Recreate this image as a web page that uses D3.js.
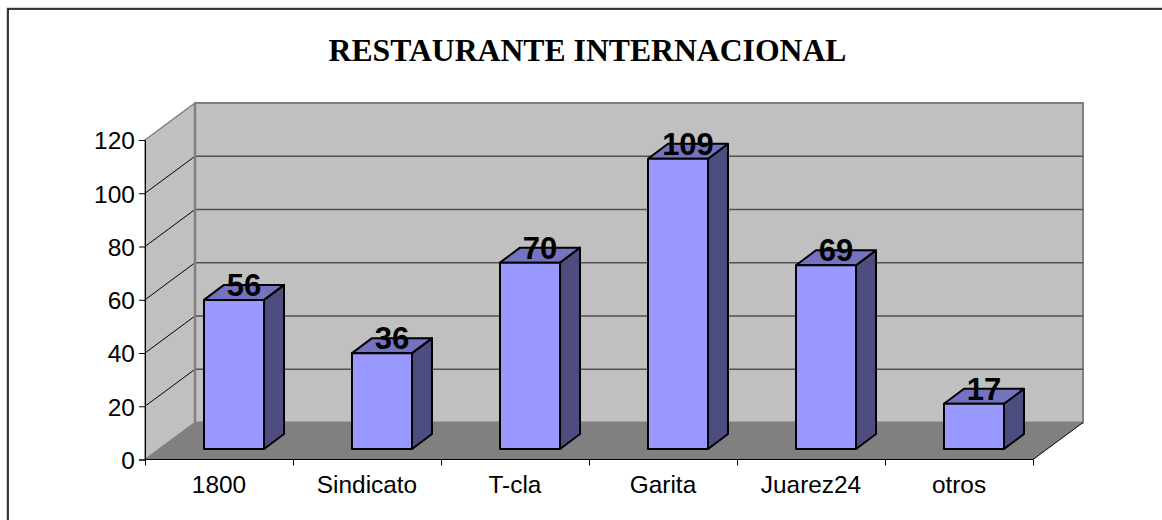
<!DOCTYPE html>
<html><head><meta charset="utf-8">
<script src="https://cdn.jsdelivr.net/npm/d3@7"></script>
<style>html,body{margin:0;padding:0;background:#fff;overflow:hidden}svg{display:block}</style>
</head><body><svg id="c" width="1162" height="520"></svg>
<script>
const categories = ["1800","Sindicato","T-cla","Garita","Juarez24","otros"];
const values = [56,36,70,109,69,17];
const yTicks = [0,20,40,60,80,100,120];
const titleText = "RESTAURANTE INTERNACIONAL";

const svg = d3.select("#c");
const x = d3.scaleBand().domain(categories).range([145,1033]);
const y = d3.scaleLinear().domain([0,120]).range([459.5,140]);
const DX=50, DY=-37;           // floor depth
const bdx=20, bdy=-15;         // bar depth
const floorFront=10.5;         // bar offset from front edge
const line = d3.line();

// outer frame runs off the right and bottom of the picture
svg.append("rect").attr("x",7).attr("y",8).attr("width",1200).attr("height",560)
  .attr("fill","none").attr("stroke","#aaa").attr("stroke-width",1);
svg.append("rect").attr("x",8).attr("y",9).attr("width",1200).attr("height",560)
  .attr("fill","#fff").attr("stroke","#000").attr("stroke-width",1.5);

svg.append("text").attr("x",587.5).attr("y",61).attr("text-anchor","middle")
  .attr("font-family","Liberation Serif").attr("font-weight","bold").attr("font-size",31.7)
  .text(titleText);

const x0=x.range()[0], x1=x.range()[1], y0=y(0), yT=y(120);
// back wall
svg.append("path").attr("d",line([[x0+DX,yT+DY],[x1+DX,yT+DY],[x1+DX,y0+DY],[x0+DX,y0+DY]])+"Z")
  .attr("fill","#c0c0c0").attr("stroke","#808080").attr("stroke-width",2);
// side wall
svg.append("path").attr("d",line([[x0,yT],[x0+DX,yT+DY],[x0+DX,y0+DY],[x0,y0]])+"Z")
  .attr("fill","#c0c0c0").attr("stroke","#808080").attr("stroke-width",1.5);
// floor
svg.append("path").attr("d",line([[x0,y0],[x0+DX,y0+DY],[x1+DX,y0+DY],[x1,y0]])+"Z")
  .attr("fill","#808080");
svg.append("path").attr("d",line([[x1,y0],[x1+DX,y0+DY]])).attr("stroke","#000").attr("fill","none");
// gridlines
yTicks.slice(1,-1).forEach(t=>{
  svg.append("path").attr("d",line([[x0,y(t)],[x0+DX,y(t)+DY]]))
    .attr("fill","none").attr("stroke","#000").attr("stroke-width",1);
  svg.append("path").attr("d",line([[x0+DX,y(t)+DY],[x1+DX,y(t)+DY]]))
    .attr("fill","none").attr("stroke","#505050").attr("stroke-width",1.3);
});
svg.append("path").attr("d",line([[x0+DX,yT+DY],[x0+DX,y0+DY]])).attr("stroke","#808080").attr("stroke-width",2.5);

// axes
const ax = d3.axisLeft(y).tickValues(yTicks).tickSize(6).tickPadding(4);
const gy = svg.append("g").attr("transform",`translate(${x0},0)`).call(ax);
gy.selectAll("text").attr("font-family","Liberation Sans").attr("font-size",24.5).attr("fill","#000").attr("y",1);
gy.selectAll("line,path").attr("stroke","#000");
const axb = d3.axisBottom(d3.scaleLinear().domain([0,6]).range([x0,x1])).ticks(6).tickSize(6).tickFormat("");
const gx = svg.append("g").attr("transform",`translate(0,${y0})`).call(axb);
gx.selectAll("line,path").attr("stroke","#000");
gx.select("path").attr("d",`M${x0},0H${x1}`);
svg.append("g").selectAll("text").data(categories).join("text")
  .attr("x",d=>x(d)+x.bandwidth()/2).attr("y",493).attr("text-anchor","middle")
  .attr("font-family","Liberation Sans").attr("font-size",24.4).text(d=>d);

// bars
const w=60;
const yb=v=>y(v)-floorFront;
const g = svg.append("g").attr("stroke","#000").attr("stroke-width",2).attr("stroke-linejoin","round");
categories.forEach((c,i)=>{
  const l=x(c)+x.bandwidth()/2-w/2+(bdx-5), r=l+w, v=values[i];
  const t=yb(v), b=yb(0);
  g.append("path").attr("fill","#4d4d80").attr("d",line([[r,t],[r+bdx,t+bdy],[r+bdx,b+bdy],[r,b]])+"Z");
  g.append("path").attr("fill","#7373bf").attr("d",line([[l,t],[l+bdx,t+bdy],[r+bdx,t+bdy],[r,t]])+"Z");
  g.append("rect").attr("fill","#9999ff").attr("x",l).attr("y",t).attr("width",w).attr("height",b-t);
});
svg.append("g").selectAll("text").data(values).join("text")
  .attr("x",(d,i)=>x(categories[i])+x.bandwidth()/2+25).attr("y",d=>yb(d)-4)
  .attr("text-anchor","middle").attr("font-family","Liberation Sans").attr("font-weight","bold")
  .attr("font-size",31).attr("fill","#000").text(d=>d);
</script></body></html>
